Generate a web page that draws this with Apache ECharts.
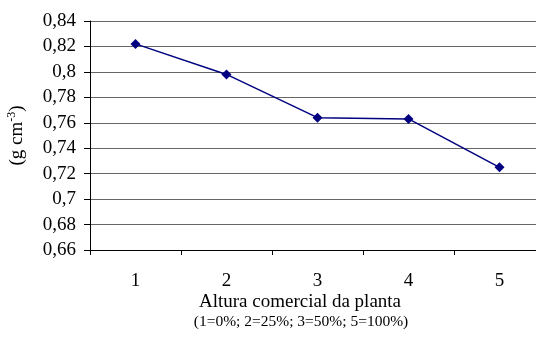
<!DOCTYPE html>
<html>
  <head>
    <meta charset="utf-8" />
    <title>Densidade</title>
    <style>
      body {
        margin: 0;
        padding: 0;
        background: #fff;
      }
      #chart {
        width: 536px;
        height: 345px;
      }
    </style>
  </head>
  <body>
    <div id="chart"></div>
    <script src="https://cdn.jsdelivr.net/npm/echarts@6/dist/echarts.min.js"></script>
    <script type="text/javascript">
      var categories = ['1', '2', '3', '4', '5'];
      var densidade = [0.822, 0.798, 0.764, 0.763, 0.725];
      var yMin = 0.66, yMax = 0.84, yStep = 0.02;
      var xTitle = ['Altura comercial da planta', '(1=0%; 2=25%; 3=50%; 5=100%)'];

      var font = '"Liberation Serif", "Times New Roman", serif';
      var chart = echarts.init(document.getElementById('chart'));

      var option = {
        backgroundColor: '#fff',
        animation: false,
        grid: {
          left: 90,
          right: -9,
          top: 21,
          bottom: 95,
          outerBoundsMode: 'none'
        },
        xAxis: {
          type: 'category',
          data: categories,
          boundaryGap: true,
          axisLine: { lineStyle: { color: '#000', width: 1 } },
          axisTick: { show: true, length: 5, lineStyle: { color: '#000' } },
          axisLabel: { color: '#000', fontFamily: font, fontSize: 19, margin: 22 },
          splitLine: { show: false }
        },
        yAxis: {
          type: 'value',
          min: yMin,
          max: yMax,
          interval: yStep,
          name: '(g cm{sup|-3})',
          nameLocation: 'middle',
          nameGap: 62,
          nameRotate: 90,
          nameTextStyle: {
            color: '#000',
            fontFamily: font,
            fontSize: 19,
            rich: {
              sup: { fontFamily: font, fontSize: 12, verticalAlign: 'top', padding: [0, 0, 10, 0] }
            }
          },
          axisLine: { show: true, lineStyle: { color: '#000', width: 1 } },
          axisTick: { show: true, length: 6, lineStyle: { color: '#000' } },
          axisLabel: {
            color: '#000',
            fontFamily: font,
            fontSize: 19,
            margin: 14,
            formatter: function (v) {
              return String(+v.toFixed(2)).replace('.', ',');
            }
          },
          splitLine: { show: true, lineStyle: { color: '#666', width: 1 } }
        },
        graphic: [
          {
            type: 'text',
            x: 300,
            y: 293,
            style: { text: xTitle[0], fill: '#000', font: '19px ' + font, textAlign: 'center' }
          },
          {
            type: 'text',
            x: 301,
            y: 314,
            style: { text: xTitle[1], fill: '#000', font: '15.5px ' + font, textAlign: 'center' }
          }
        ],
        series: [
          {
            type: 'line',
            data: densidade,
            symbol: 'diamond',
            symbolSize: 10,
            itemStyle: { color: '#000080' },
            lineStyle: { color: '#000080', width: 1.5 }
          }
        ]
      };
      chart.setOption(option);
    </script>
  </body>
</html>
